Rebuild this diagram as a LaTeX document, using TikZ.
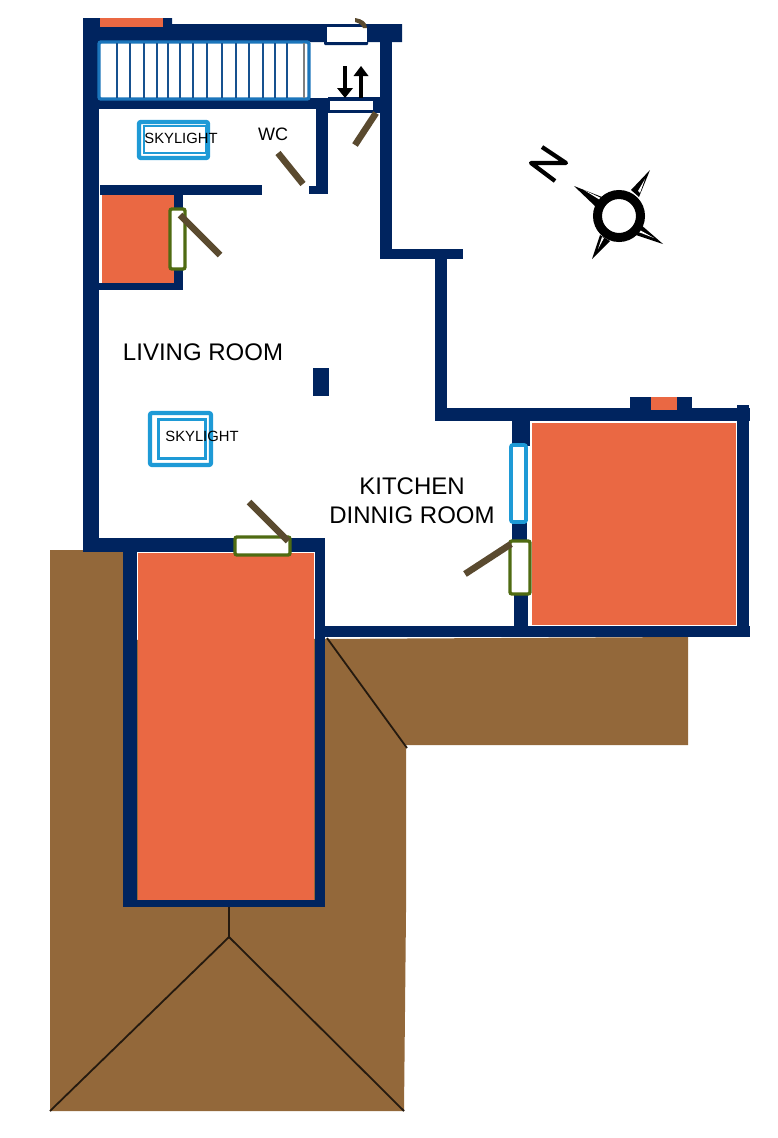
\documentclass[tikz,border=0pt]{standalone}
\usepackage{fontspec}
\setmainfont{Liberation Sans}
\definecolor{navy}{HTML}{00245F}
\definecolor{terra}{HTML}{EA6843}
\definecolor{roof}{HTML}{93683A}
\definecolor{sky}{HTML}{1E9AD6}
\definecolor{stair}{HTML}{1B75BB}
\definecolor{tread}{HTML}{17518F}
\definecolor{frameg}{HTML}{4F6B12}
\definecolor{leaf}{HTML}{5A4A2F}
\tikzset{
  wall/.style={fill=navy},
  floorarea/.style={fill=terra},
  roofarea/.style={fill=roof},
  roofline/.style={draw=black!75!roof,line width=1.8},
  opening/.style={draw=frameg,fill=white,line width=3.4,rounded corners=2},
  glass/.style={draw=sky,fill=white,line width=3.8,rounded corners=2},
  doorleaf/.style={draw=leaf,line width=6.6},
  tread line/.style={draw=tread,line width=2.4},
  label big/.style={font=\fontsize{24}{28}\selectfont,inner sep=0pt,align=center},
  label small/.style={font=\fontsize{14.8}{17}\selectfont,inner sep=0pt},
  label wc/.style={font=\fontsize{18}{20}\selectfont,inner sep=0pt},
}
\begin{document}
\begin{tikzpicture}[x=1pt,y=-1pt]
\useasboundingbox (0,0) rectangle (777,1138);
% roof
\fill[roofarea] (50,550) -- (123,550) -- (123,640) -- (688,637) -- (688,745) -- (406,745) -- (406,912) -- (404,1111) -- (50,1111) -- (50,912) -- cycle;
\coordinate (ridgeTop) at (229,907);
\coordinate (ridge) at (229,937);
\coordinate (eaveL) at (50,1111);
\coordinate (eaveR) at (404,1111);
\coordinate (hipA) at (327,638);
\coordinate (hipB) at (407,748);
\draw[roofline] (ridgeTop) -- (ridge) (eaveL) -- (ridge) -- (eaveR) (hipA) -- (hipB);
% terraces
\fill[floorarea] (102,195) rectangle (174,283);
\fill[floorarea] (138,553) rectangle (314,900);
\fill[floorarea] (532,423) rectangle (736,625);
% walls
\fill[wall] (83,18) rectangle (99,552);
\fill[wall] (83,18) -- (172,18) -- (172,24) -- (402,24) -- (402,42) -- (83,42) -- cycle;
\fill[wall] (99,98) rectangle (330,109);
\fill[wall] (316,100) rectangle (328,194);
\fill[wall] (309,186) rectangle (328,194);
\fill[wall] (328,97) rectangle (392,113);
\fill[wall] (380,42) rectangle (392,259);
\fill[wall] (380,249) rectangle (463,259);
\fill[wall] (435,249) rectangle (447,421);
\fill[wall] (435,408) rectangle (750,421);
\fill[wall] (630,397) rectangle (692,408);
\fill[wall] (737,405) rectangle (749,637);
\fill[wall] (325,626) rectangle (750,637);
\fill[wall] (512,421) rectangle (530,446);
\fill[wall] (512,522) rectangle (527,541);
\fill[wall] (514,594) rectangle (528,626);
\fill[wall] (100,185) rectangle (262,195);
\fill[wall] (174,185) rectangle (183,290);
\fill[wall] (99,283) rectangle (183,290);
\fill[wall] (83,538) rectangle (325,552);
\fill[wall] (123,552) rectangle (137,907);
\fill[wall] (315,540) rectangle (325,907);
\fill[wall] (123,900) rectangle (325,907);
\fill[wall] (313,368) rectangle (329,396);
\fill[floorarea] (651,397) rectangle (677,410);
\fill[floorarea] (100,18) rectangle (163,27);
% stairs
\draw[draw=stair,fill=white,line width=3.4,rounded corners=2] (99,42) rectangle (309,99);
\foreach \tx in {117,130,144,157,168,180,193,207,222,236,249,263,275,287}
  \draw[tread line] (\tx,43) -- (\tx,98);
\draw[draw=gray,line width=2.2] (304,43) -- (304,98);
% top and stair-foot openings
\fill[navy,rounded corners=1] (324,25) rectangle (368,45);
\fill[white] (327,27) rectangle (367,42);
\fill[white] (330,100.5) rectangle (373,110);
\fill[leaf] (355,18) .. controls (362,19) and (367,22) .. (367,28) -- (363,28) .. controls (362,25) and (359,23) .. (355,22) -- cycle;
% stair arrows
\coordinate (downA) at (345,66); \coordinate (downB) at (345,98);
\coordinate (upA) at (361,98); \coordinate (upB) at (361,66);
\draw[line width=3.2] (downA) -- (345,88);
\fill (337,88) -- (353,88) -- (downB) -- cycle;
\draw[line width=3.2] (upA) -- (361,76);
\fill (353.5,76) -- (368.5,76) -- (upB) -- cycle;
% windows and doors
\draw[glass] (511,445) rectangle (526,522);
\draw[opening] (170,209) rectangle (185,269);
\draw[opening] (510,541) rectangle (530,594);
\draw[opening] (235,537) rectangle (290,555);
\draw[doorleaf] (180,215) -- (220,255);
\draw[doorleaf] (278,153) -- (303,184);
\draw[doorleaf] (376,113) -- (355,145);
\draw[doorleaf] (511,544) -- (465,574);
\draw[doorleaf] (249,502) -- (288,541);
% skylights
\draw[draw=sky,fill=white,line width=4.4,rounded corners=2] (139,122) rectangle (208,158);
\draw[draw=sky,line width=2.8] (144,126) rectangle (206,153);
\draw[draw=sky,fill=white,line width=4.2,rounded corners=2] (150,413) rectangle (211,465);
\draw[draw=sky,line width=3] (158,419) rectangle (205,458);
% labels
\node[label small] (sky1) at (181,138) {SKYLIGHT};
\node[label small] (sky2) at (202,436) {SKYLIGHT};
\node[label wc] (wc) at (273,134) {WC};
\node[label big] (living) at (203,352) {LIVING ROOM};
\node[label big] (kitchen) at (412,486) {KITCHEN};
\node[label big] (dining) at (412,515) {DINNIG ROOM};
% compass
\fill (650,170) -- (631,190) -- (639,197) -- cycle;
\fill (663,244) -- (640,224) -- (633,234) -- cycle;
\fill (592,259) -- (600,235) -- (610,241) -- cycle;
\fill (574,186) -- (602,197) -- (596,207) -- cycle;
\fill[white] (645,179) -- (638,191) -- (640,193) -- cycle;
\fill[white] (654,238) -- (638,229) -- (636,231) -- cycle;
\fill[white] (598,249) -- (602,237) -- (604,238) -- cycle;
\fill[white] (584,190) -- (601,198) -- (600,200) -- cycle;
\draw[line width=9,fill=white] (619,216) circle (21.5);
\draw[line width=4.2,line join=round] (542,147) -- (566,163) -- (531,163) -- (555,181);
\end{tikzpicture}
\end{document}
